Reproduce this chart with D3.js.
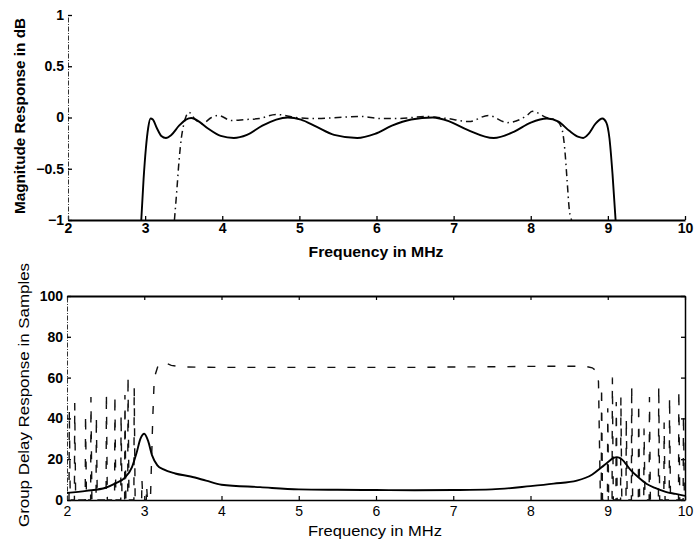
<!DOCTYPE html>
<html>
<head>
<meta charset="utf-8">
<script src="https://cdn.jsdelivr.net/npm/d3@7"></script>
<style>
  html, body { margin: 0; padding: 0; background: #fff; }
  svg { display: block; }
  text { font-family: "Liberation Sans", Arial, Helvetica, sans-serif; fill: #000; }
</style>
</head>
<body>
<svg id="chart" width="695" height="544"></svg>
<script>
// ---------- data ----------
const freqTicks = [2, 3, 4, 5, 6, 7, 8, 9, 10];
const magTicks = [-1, -0.5, 0, 0.5, 1];
const delayTicks = [0, 20, 40, 60, 80, 100];

// magnitude response, solid filter (dB)
const magFreqA = [2.95, 2.98, 3.01, 3.04, 3.07, 3.10, 3.15, 3.21, 3.27, 3.34, 3.44, 3.53, 3.60, 3.68,
  3.82, 3.98, 4.15, 4.32, 4.52, 4.70, 4.85, 5.02, 5.22, 5.45, 5.75, 5.98, 6.20, 6.45, 6.73,
  6.95, 7.18, 7.52, 7.78, 8.00, 8.21, 8.36, 8.50, 8.62, 8.68, 8.75, 8.84, 8.93, 8.98, 9.02, 9.06, 9.10];
const magA = [-1, -0.6, -0.3, -0.1, -0.01, -0.02, -0.1, -0.18, -0.2, -0.17, -0.08, -0.02, -0.005, -0.03,
  -0.11, -0.18, -0.2, -0.17, -0.08, -0.02, 0, -0.02, -0.09, -0.17, -0.2, -0.16, -0.08, -0.02, 0,
  -0.04, -0.12, -0.2, -0.14, -0.05, -0.01, -0.04, -0.13, -0.19, -0.2, -0.16, -0.06, -0.01, -0.05, -0.2, -0.55, -1];

// magnitude response, dash-dot filter (dB)
const magFreqB = [3.38, 3.41, 3.44, 3.47, 3.50, 3.53, 3.57, 3.65, 3.74, 3.86, 3.95, 4.12, 4.30, 4.48,
  4.70, 4.95, 5.20, 5.50, 5.80, 6.05, 6.30, 6.62, 6.92, 7.20, 7.45, 7.70, 7.95, 8.02, 8.20, 8.33,
  8.40, 8.44, 8.47, 8.50, 8.53];
const magB = [-1, -0.72, -0.42, -0.2, -0.07, 0.01, 0.05, -0.02, -0.06, 0.0, 0.02, -0.03, -0.02, -0.01,
  0.03, 0.0, -0.01, 0.0, 0.01, -0.01, -0.01, 0.01, -0.01, -0.04, 0.02, -0.05, 0.02, 0.06, 0.0, -0.03,
  -0.1, -0.3, -0.6, -0.9, -1];

// group delay, solid filter (samples)
const delayFreqA = [2.0, 2.25, 2.5, 2.62, 2.75, 2.84, 2.90, 2.95, 3.0, 3.05, 3.10, 3.17, 3.25, 3.4,
  3.6, 3.8, 4.0, 4.5, 5.0, 5.5, 6.0, 6.5, 7.0, 7.5, 8.0, 8.3, 8.6, 8.8, 8.92, 9.0, 9.07, 9.12, 9.18,
  9.3, 9.4, 9.5, 9.62, 9.75, 9.88, 10.0];
const delayA = [3.5, 4.5, 6, 8, 11, 16, 23, 30, 32.5, 29, 22, 17, 15, 13,
  11.5, 9.5, 7.5, 6.3, 5.2, 5, 4.9, 4.8, 4.9, 5.2, 6.8, 8, 9.5, 12.5, 16, 18.5, 20.5, 21, 20,
  14.5, 11, 8, 5.8, 4, 3, 2];

// group delay, dashed filter: passband plateau
const passFreqB = [3.08, 3.11, 3.13, 3.18, 3.25, 3.35, 3.5, 4.0, 4.5, 5.0, 5.5, 6.0, 6.5, 7.0, 7.5,
  8.0, 8.5, 8.7, 8.8, 8.86, 8.88, 8.905];
const passB = [0, 40, 60, 66, 67.5, 66, 65.2, 65, 65, 65, 65, 65, 65, 65.2, 65.3,
  65.5, 65.6, 65.6, 64.8, 63, 58, 0];
// group delay, dashed filter: stopband peaks (lower and upper band)
const spikeFreqLow = [2.03, 2.10, 2.24, 2.31, 2.38, 2.51, 2.62, 2.70, 2.75, 2.79, 2.87, 2.97, 3.03];
const spikeTopLow = [44, 47.5, 42, 50.5, 41, 52.5, 51.5, 42, 51.5, 61, 55.5, 10, 7];
const spikeFreqHigh = [8.92, 9.00, 9.06, 9.11, 9.17, 9.24, 9.31, 9.40, 9.47, 9.54, 9.66, 9.73, 9.80, 9.92, 9.98];
const spikeTopHigh = [55.5, 45, 60, 48, 50.5, 40, 56, 47.5, 35, 50.5, 56, 38, 50.5, 54, 42];

// ---------- layout ----------
const svg = d3.select("#chart");

function spikes(freqs, tops) {
  const pts = [];
  freqs.forEach((f, i) => {
    pts.push([f - 0.004, 0], [f, tops[i]], [f + 0.012, 0]);
  });
  return pts;
}

// ===== upper panel: magnitude =====
const x1 = d3.scaleLinear().domain([2, 10]).range([68, 685]);
const y1 = d3.scaleLinear().domain([-1, 1]).range([220, 15]);

const defs = svg.append("defs");
defs.append("clipPath").attr("id", "clipTop").append("rect")
  .attr("x", 67).attr("y", 12).attr("width", 620).attr("height", 210);
defs.append("clipPath").attr("id", "clipBot").append("rect")
  .attr("x", 67).attr("y", 296).attr("width", 619).attr("height", 205);

const upper = svg.append("g");

const xAx1 = upper.append("g").attr("transform", `translate(0,${y1(-1)})`)
  .call(d3.axisBottom(x1).tickValues(freqTicks).tickFormat(d3.format("d"))
    .tickSizeInner(-4).tickSizeOuter(0).tickPadding(3));
xAx1.select(".domain").attr("stroke", "#000").attr("stroke-width", 2);
xAx1.selectAll(".tick line").attr("stroke", "#000").attr("stroke-width", 1.3);
xAx1.selectAll("text").attr("font-size", 14).attr("font-weight", "bold");

const yAx1 = upper.append("g").attr("transform", `translate(${x1(2)},0)`)
  .call(d3.axisLeft(y1).tickValues(magTicks)
    .tickFormat(d => d === 0 ? "0" : (d < 0 ? "\u2212" + Math.abs(d) : String(d)))
    .tickSizeInner(-4).tickSizeOuter(0).tickPadding(4));
yAx1.select(".domain").attr("stroke", "#333").attr("stroke-width", 1)
  .attr("stroke-dasharray", "5,1.5,1,1.5");
yAx1.selectAll(".tick line").attr("stroke", "#000").attr("stroke-width", 1.3);
yAx1.selectAll("text").attr("font-size", 14).attr("font-weight", "bold");

const plotTop = upper.append("g").attr("clip-path", "url(#clipTop)");
const lineTop = d3.line().x(d => x1(d[0])).y(d => y1(d[1])).curve(d3.curveMonotoneX);

plotTop.append("path")
  .attr("d", lineTop(magFreqB.map((f, i) => [f, magB[i]])))
  .attr("fill", "none").attr("stroke", "#111").attr("stroke-width", 1.5)
  .attr("stroke-dasharray", "7,4,1.5,4");
plotTop.append("path")
  .attr("d", lineTop(magFreqA.map((f, i) => [f, magA[i]])))
  .attr("fill", "none").attr("stroke", "#000").attr("stroke-width", 1.9);

upper.append("text").attr("x", 376).attr("y", 257).attr("text-anchor", "middle")
  .attr("font-size", 15).attr("font-weight", "bold")
  .attr("textLength", 135).attr("lengthAdjust", "spacingAndGlyphs")
  .text("Frequency in MHz");
upper.append("text").attr("transform", "translate(25,116) rotate(-90)")
  .attr("text-anchor", "middle").attr("font-size", 15).attr("font-weight", "bold")
  .attr("textLength", 196).attr("lengthAdjust", "spacingAndGlyphs")
  .text("Magnitude Response in dB");

// ===== lower panel: group delay =====
const x2 = d3.scaleLinear().domain([2, 10]).range([67, 685]);
const y2 = d3.scaleLinear().domain([0, 100]).range([500, 296]);

const lower = svg.append("g");

const xAx2 = lower.append("g").attr("transform", `translate(0,${y2(0)})`)
  .call(d3.axisBottom(x2).tickValues(freqTicks).tickFormat(d3.format("d"))
    .tickSizeInner(-4).tickSizeOuter(0).tickPadding(6));
xAx2.select(".domain").attr("stroke", "#000").attr("stroke-width", 1.6);
xAx2.selectAll(".tick line").attr("stroke", "#000").attr("stroke-width", 1.2);
xAx2.selectAll("text").attr("font-size", 14);

const xAx2t = lower.append("g").attr("transform", `translate(0,${y2(100)})`)
  .call(d3.axisTop(x2).tickValues(freqTicks).tickFormat("")
    .tickSizeInner(-4).tickSizeOuter(0));
xAx2t.select(".domain").attr("stroke", "#000").attr("stroke-width", 2);
xAx2t.selectAll(".tick line").attr("stroke", "#000").attr("stroke-width", 1.2);

const yAx2 = lower.append("g").attr("transform", `translate(${x2(2)},0)`)
  .call(d3.axisLeft(y2).tickValues(delayTicks).tickFormat(d3.format("d"))
    .tickSizeInner(-4).tickSizeOuter(0).tickPadding(4));
yAx2.select(".domain").attr("stroke", "#333").attr("stroke-width", 1)
  .attr("stroke-dasharray", "5,1.5,1,1.5");
yAx2.selectAll(".tick line").attr("stroke", "#000").attr("stroke-width", 1.3);
yAx2.selectAll("text").attr("font-size", 14).attr("font-weight", "bold");

const yAx2r = lower.append("g").attr("transform", `translate(${x2(10)},0)`)
  .call(d3.axisRight(y2).tickValues(delayTicks).tickFormat("")
    .tickSizeInner(-4).tickSizeOuter(0));
yAx2r.select(".domain").attr("stroke", "#000").attr("stroke-width", 1.5);
yAx2r.selectAll(".tick line").attr("stroke", "#000").attr("stroke-width", 1.3);

const plotBot = lower.append("g").attr("clip-path", "url(#clipBot)");
const lineBot = d3.line().x(d => x2(d[0])).y(d => y2(d[1]));

const dashedPts = spikes(spikeFreqLow, spikeTopLow)
  .concat(passFreqB.map((f, i) => [f, passB[i]]))
  .concat(spikes(spikeFreqHigh, spikeTopHigh));
plotBot.append("path")
  .attr("d", lineBot(dashedPts))
  .attr("fill", "none").attr("stroke", "#111").attr("stroke-width", 1.4)
  .attr("stroke-dasharray", "8,12");
plotBot.append("path")
  .attr("d", lineBot.curve(d3.curveMonotoneX)(delayFreqA.map((f, i) => [f, delayA[i]])))
  .attr("fill", "none").attr("stroke", "#000").attr("stroke-width", 1.9);

lower.append("text").attr("x", 375).attr("y", 536).attr("text-anchor", "middle")
  .attr("font-size", 15)
  .attr("textLength", 134).attr("lengthAdjust", "spacingAndGlyphs")
  .text("Frequency in MHz");
lower.append("text").attr("transform", "translate(29,395) rotate(-90)")
  .attr("text-anchor", "middle").attr("font-size", 15)
  .attr("textLength", 264).attr("lengthAdjust", "spacingAndGlyphs")
  .text("Group Delay Response in Samples");
</script>
</body>
</html>
